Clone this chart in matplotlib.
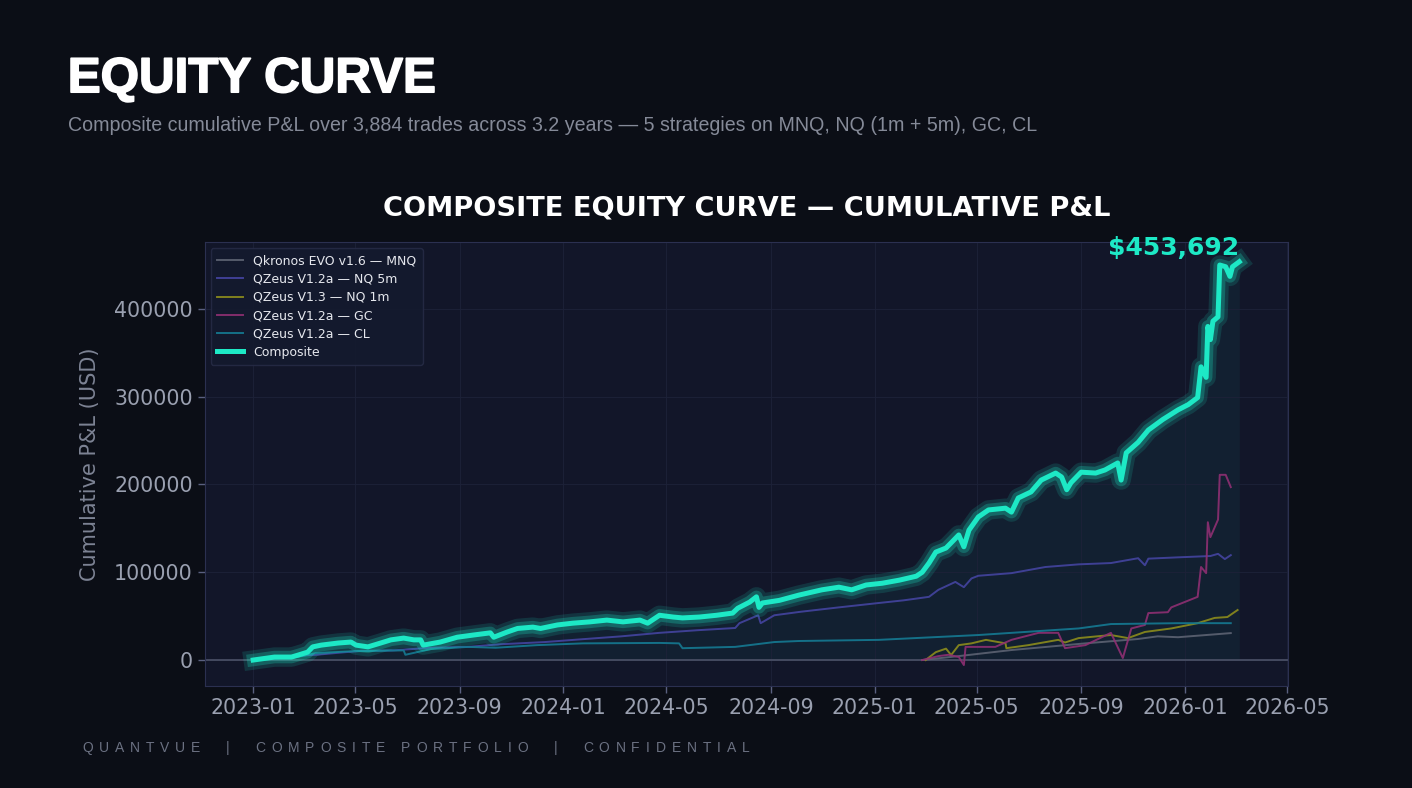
import matplotlib
matplotlib.use("Agg")
import matplotlib.pyplot as plt
import matplotlib.dates as mdates
import matplotlib.patheffects as pe
from matplotlib.font_manager import FontProperties
import pandas as pd

# ---- data ----
comp_dates = ["2023-01-01", "2023-01-26", "2023-02-15", "2023-02-23", "2023-03-06", "2023-03-12",
              "2023-03-22", "2023-04-11", "2023-04-26", "2023-05-02", "2023-05-16", "2023-05-31",
              "2023-06-12", "2023-06-27", "2023-07-09", "2023-07-17", "2023-07-20", "2023-08-09",
              "2023-08-29", "2023-09-17", "2023-10-07", "2023-10-11", "2023-10-27", "2023-11-08",
              "2023-11-26", "2023-12-05", "2023-12-25", "2024-01-12", "2024-02-01", "2024-02-21",
              "2024-03-11", "2024-03-31", "2024-04-09", "2024-04-23", "2024-05-09", "2024-05-20",
              "2024-06-09", "2024-06-29", "2024-07-18", "2024-07-24", "2024-08-07", "2024-08-15",
              "2024-08-18", "2024-08-22", "2024-09-11", "2024-10-04", "2024-10-31", "2024-11-20",
              "2024-12-05", "2024-12-22", "2025-01-10", "2025-01-30", "2025-02-19", "2025-02-26",
              "2025-03-06", "2025-03-14", "2025-03-26", "2025-04-02", "2025-04-10", "2025-04-16",
              "2025-04-22", "2025-05-03", "2025-05-15", "2025-06-04", "2025-06-11", "2025-06-19",
              "2025-07-04", "2025-07-16", "2025-08-02", "2025-08-09", "2025-08-15", "2025-08-20",
              "2025-09-01", "2025-09-18", "2025-09-29", "2025-10-14", "2025-10-18", "2025-10-24",
              "2025-11-07", "2025-11-19", "2025-12-06", "2025-12-24", "2026-01-05", "2026-01-16",
              "2026-01-20", "2026-01-26", "2026-01-28", "2026-01-31", "2026-02-03", "2026-02-09",
              "2026-02-11", "2026-02-18", "2026-02-23", "2026-02-26", "2026-03-06"]
comp_vals = [0, 3400, 3400, 5700, 9000, 15000,
             17000, 19400, 20500, 17000, 15000, 19400,
             23000, 25000, 23000, 23000, 17000, 20500,
             26000, 28500, 31000, 26000, 32000, 36000,
             37500, 36000, 40000, 42000, 43500, 45500,
             43500, 45500, 42000, 51000, 49000, 48000,
             49000, 51000, 53500, 59000, 66000, 72000,
             60000, 65000, 68000, 74000, 80000, 83000,
             80000, 85500, 87500, 91000, 95500, 100000,
             110500, 123000, 127600, 134500, 142500, 129000,
             148000, 163000, 171000, 173000, 168500, 184600,
             191500, 205000, 213000, 208500, 194000, 202000,
             214000, 213000, 216500, 224500, 205000, 236000,
             248000, 262000, 274000, 285000, 291000, 299000,
             334000, 322000, 380000, 365000, 386000, 391000,
             450000, 448000, 437000, 448000, 453692]

mnq_dates = ["2025-02-26", "2025-04-10", "2025-06-11", "2025-09-06", "2025-11-07", "2025-11-30",
             "2025-12-24", "2026-02-24"]
mnq_vals = [0, 4500, 11400, 19000, 24000, 27000, 26000, 30700]

nq5_dates = ["2023-01-01", "2023-01-28", "2023-02-26", "2023-03-16", "2023-04-14", "2023-05-08",
             "2023-06-14", "2023-07-29", "2023-09-11", "2023-10-19", "2023-12-10", "2024-01-20",
             "2024-03-09", "2024-04-23", "2024-06-07", "2024-07-21", "2024-07-26", "2024-08-17",
             "2024-08-20", "2024-09-05", "2024-10-06", "2024-11-20", "2025-01-06", "2025-02-04",
             "2025-03-06", "2025-03-17", "2025-04-06", "2025-04-16", "2025-04-25", "2025-05-03",
             "2025-06-11", "2025-07-21", "2025-08-29", "2025-10-06", "2025-11-07", "2025-11-15",
             "2025-11-19", "2025-12-24", "2026-01-31", "2026-02-09", "2026-02-17", "2026-02-24"]
nq5_vals = [0, 2500, 5000, 6000, 8500, 10500,
            11000, 14000, 15000, 18000, 20500, 23500,
            27000, 31000, 34000, 36500, 42000, 51000,
            42000, 51000, 55000, 60000, 65000, 68000,
            72000, 80000, 89000, 83000, 93000, 96000,
            99000, 106000, 109000, 110500, 116000, 108000,
            115500, 117000, 118500, 121000, 115000, 119500]

nq1_dates = ["2025-03-02", "2025-03-14", "2025-03-26", "2025-04-01", "2025-04-10", "2025-04-25",
             "2025-05-12", "2025-06-04", "2025-06-05", "2025-07-01", "2025-08-05", "2025-08-13",
             "2025-08-29", "2025-10-06", "2025-10-26", "2025-11-15", "2025-12-16", "2026-01-16",
             "2026-02-05", "2026-02-20", "2026-03-04"]
nq1_vals = [0, 9000, 13000, 5700, 17000, 19000,
            23000, 19000, 13500, 17000, 23000, 20000,
            25000, 28500, 25000, 32000, 36000, 42000,
            48000, 49000, 57000]

gc_dates = ["2025-02-26", "2025-03-17", "2025-03-29", "2025-04-10", "2025-04-16", "2025-04-18",
            "2025-05-23", "2025-06-11", "2025-07-13", "2025-08-05", "2025-08-13", "2025-09-06",
            "2025-10-06", "2025-10-20", "2025-10-30", "2025-11-15", "2025-11-19", "2025-12-12",
            "2025-12-16", "2026-01-16", "2026-01-20", "2026-01-26", "2026-01-28", "2026-01-31",
            "2026-02-09", "2026-02-11", "2026-02-18", "2026-02-24"]
gc_vals = [0, 4500, 6000, 3500, -5700, 15000,
           15000, 23000, 31000, 31000, 13500, 17000,
           31000, 2300, 36000, 40000, 53500, 54500,
           60000, 72000, 106000, 99000, 157000, 140000,
           160000, 211000, 211000, 197000]

cl_dates = ["2023-01-01", "2023-02-22", "2023-03-16", "2023-04-29", "2023-06-27", "2023-06-29",
            "2023-07-29", "2023-09-11", "2023-10-13", "2023-12-01", "2024-01-24", "2024-04-23",
            "2024-05-16", "2024-05-20", "2024-07-21", "2024-09-05", "2024-10-04", "2025-01-06",
            "2025-05-03", "2025-08-29", "2025-10-06", "2025-12-24", "2026-02-24"]
cl_vals = [0, 3500, 8000, 10000, 11000, 6000,
           12500, 15000, 14000, 17000, 19000, 19500,
           19000, 13500, 15000, 20500, 21700, 23000,
           28500, 36000, 41000, 42000, 42000]

# ---- style ----
BG = "#0b0e16"
AX_BG = "#121629"
TEAL = "#1de9c6"
TICK = "#9aa0b0"
W, H = 1412, 788

fig = plt.figure(figsize=(W / 100, H / 100), dpi=100, facecolor=BG)
ax = fig.add_axes([0.145, 0.1294, 0.767, 0.5636])
ax.set_facecolor(AX_BG)

strategies = [
    ("Qkronos EVO v1.6 \u2014 MNQ", mnq_dates, mnq_vals, "#5c6272"),
    ("QZeus V1.2a \u2014 NQ 5m", nq5_dates, nq5_vals, "#4444a0"),
    ("QZeus V1.3 \u2014 NQ 1m", nq1_dates, nq1_vals, "#8c8c1c"),
    ("QZeus V1.2a \u2014 GC", gc_dates, gc_vals, "#8e2f72"),
    ("QZeus V1.2a \u2014 CL", cl_dates, cl_vals, "#157a92"),
]
for name, d, v, c in strategies:
    ax.plot(pd.to_datetime(d), v, color=c, lw=1.4, alpha=0.9, label=name, zorder=3)

cd = pd.to_datetime(comp_dates)
ax.fill_between(cd, comp_vals, 0, color=TEAL, alpha=0.05, lw=0, zorder=1)
ax.plot(cd, comp_vals, color=TEAL, lw=14, alpha=0.14, solid_joinstyle="round", zorder=4)
ax.plot(cd, comp_vals, color=TEAL, lw=9, alpha=0.25, solid_joinstyle="round", zorder=4)
ax.plot(cd, comp_vals, color=TEAL, lw=3.6, label="Composite", solid_joinstyle="round", zorder=5)

ax.axhline(0, color="#4c5268", lw=1.2, zorder=2)

ax.annotate("$" + format(comp_vals[-1], ","), xy=(cd[-1], comp_vals[-1]),
            xytext=(0, 1), textcoords="offset points", ha="right", va="bottom",
            color=TEAL, fontsize=18, fontweight="bold", zorder=6)

ax.set_xlim(pd.Timestamp("2022-11-05"), pd.Timestamp("2026-05-02"))
ax.set_ylim(-29600, 476300)
ax.xaxis.set_major_locator(mdates.MonthLocator(bymonth=[1, 5, 9]))
ax.xaxis.set_major_formatter(mdates.DateFormatter("%Y-%m"))
ax.ticklabel_format(axis="y", style="plain")
ax.set_yticks([0, 100000, 200000, 300000, 400000])

ax.tick_params(colors="#5a6080", labelcolor=TICK, labelsize=14.8, length=5, width=1)
ax.grid(True, color="#1d2238", lw=0.8, alpha=0.9)
for s in ax.spines.values():
    s.set_color("#2b3050")
ax.set_ylabel("Cumulative P&L (USD)", color="#7d8394", fontsize=15, labelpad=10)

leg = ax.legend(loc="upper left", fontsize=9, facecolor="#141a2e", edgecolor="#262b45",
                labelcolor="#e6e8ee", framealpha=0.9, borderpad=0.5, handlelength=2.1,
                labelspacing=0.42)
leg.get_frame().set_linewidth(1)

fig.text(0.529, 0.726, "COMPOSITE EQUITY CURVE \u2014 CUMULATIVE P&L", ha="center", va="baseline",
         color="white", fontsize=19.6, fontweight="bold")

fig.text(0.048, 0.883, "EQUITY CURVE", color="white", fontsize=35.5, fontweight="bold",
         family="Liberation Sans", va="baseline",
         path_effects=[pe.withStroke(linewidth=1.2, foreground="white")])
fig.text(0.048, 0.834, "Composite cumulative P&L over 3,884 trades across 3.2 years \u2014 "
         "5 strategies on MNQ, NQ (1m + 5m), GC, CL",
         color="#858a98", fontsize=14.1, family="Liberation Sans", va="baseline")

# footer with letter spacing
footer = "QUANTVUE  |  COMPOSITE PORTFOLIO  |  CONFIDENTIAL"
fprop = FontProperties(family="Liberation Sans", size=10)
renderer = fig.canvas.get_renderer()


def text_w(s):
    return renderer.get_text_width_height_descent(s, fprop, ismath=False)[0]


x = 82.0
tracking = 5.9
for ch in footer:
    fig.text(x / W, 0.046, ch, color="#6b7182", fontproperties=fprop, va="baseline")
    x += text_w("H" + ch + "H") - text_w("HH") + tracking

fig.savefig("out.png", dpi=100, facecolor=BG)
